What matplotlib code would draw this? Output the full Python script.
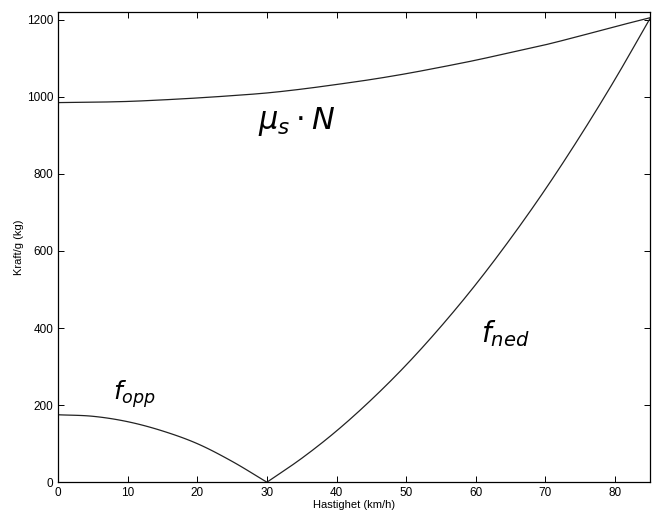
import matplotlib
matplotlib.use('Agg')
import matplotlib.pyplot as plt
import numpy as np

plt.rcParams['font.family'] = ['Liberation Sans', 'DejaVu Sans']

# hastighet (km/h)
v = [0, 5, 10, 15, 20, 25, 30, 35, 40, 45, 50, 55, 60, 65, 70, 75, 80, 85]
# mu_s * N (kg)
muN = [985, 986, 988, 992, 997, 1003, 1010, 1020, 1032, 1045, 1060, 1077,
       1095, 1115, 1135, 1158, 1182, 1205]
# friksjonskraft f (opp for v<30, ned for v>30)
f = [175, 171, 157, 133, 100, 54, 0, 62, 133, 214, 304, 404, 513, 632,
     760, 898, 1045, 1202]

xticks = [0, 10, 20, 30, 40, 50, 60, 70, 80]
yticks = [0, 200, 400, 600, 800, 1000, 1200]


def smooth(x, y, n=20):
    # Catmull-Rom through the read points, just for drawing
    x = np.asarray(x, float); y = np.asarray(y, float)
    xp = np.concatenate([[2*x[0]-x[1]], x, [2*x[-1]-x[-2]]])
    yp = np.concatenate([[2*y[0]-y[1]], y, [2*y[-1]-y[-2]]])
    xs, ys = [], []
    t = np.linspace(0, 1, n, endpoint=False)
    for i in range(1, len(xp)-2):
        for arr, out in ((xp, xs), (yp, ys)):
            p0, p1, p2, p3 = arr[i-1:i+3]
            out.extend(0.5*(2*p1 + (-p0+p2)*t + (2*p0-5*p1+4*p2-p3)*t**2
                            + (-p0+3*p1-3*p2+p3)*t**3))
    xs.append(x[-1]); ys.append(y[-1])
    return xs, ys


fig = plt.figure(figsize=(6.53, 5.23), dpi=100)
ax = fig.add_axes([0.089, 0.078, 0.906, 0.899])

ax.plot(*smooth(v, muN), color='#222222', lw=0.9)
ax.plot(*smooth(v[:7], f[:7]), color='#222222', lw=0.9)
ax.plot(*smooth(v[6:], f[6:]), color='#222222', lw=0.9)

ax.set_xlim(0, 85)
ax.set_ylim(0, 1220)
ax.set_xticks(xticks)
ax.set_yticks(yticks)
ax.tick_params(direction='in', top=True, right=True, labelsize=8.5, length=4, width=0.7)
for s in ax.spines.values():
    s.set_linewidth(0.9)

ax.set_xlabel('Hastighet (km/h)', fontsize=8, labelpad=1)
ax.set_ylabel('Kraft/g (kg)', fontsize=8, labelpad=2)

ax.text(34.3, 935, r'$\mu_s \cdot N$', fontsize=22, ha='center', va='center')
ax.text(11, 228, r'$f_{opp}$', fontsize=18, ha='center', va='center')
ax.text(64.2, 385, r'$f_{ned}$', fontsize=20, ha='center', va='center')

fig.savefig('out.png', dpi=100)
